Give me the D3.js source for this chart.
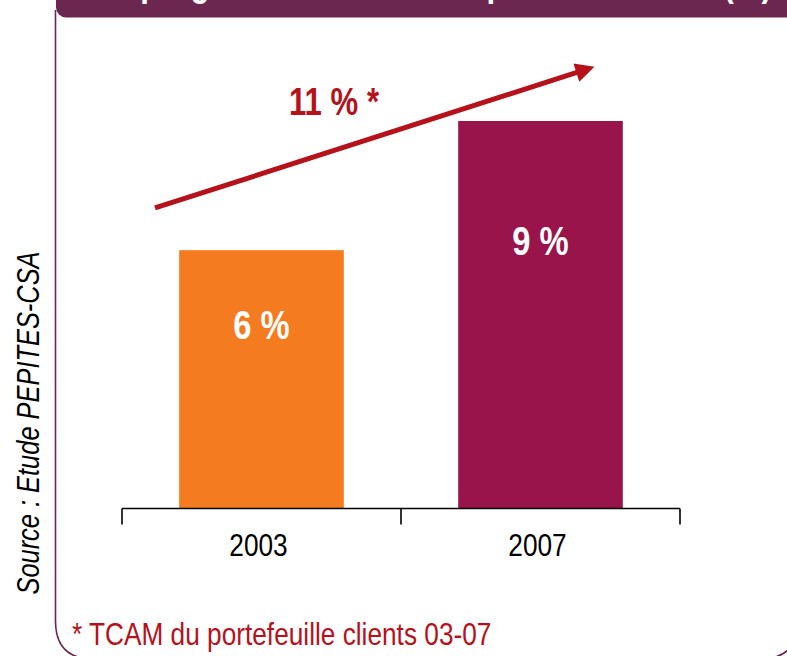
<!DOCTYPE html>
<html>
<head>
<meta charset="utf-8">
<script src="https://cdn.jsdelivr.net/npm/d3@7"></script>
<style>
  html, body { margin: 0; padding: 0; background: #fff; }
  svg { display: block; }
</style>
</head>
<body>
<script>
// data
const years = ["2003", "2007"];
const shares = [6, 9];
const barColors = ["#F47B20", "#98144A"];
const growthLabel = "11 % *";
const title = "Une progression forte de la part des clients (%)";
const source = "Source : Etude PEPITES-CSA";
const footnote = "* TCAM du portefeuille clients 03-07";

const width = 787, height = 656;
const font = "'Liberation Sans', Arial, sans-serif";
const purple = "#6B2750", red = "#B5121B";
const squeeze = 0.82; // no Arial Narrow installed, so squash horizontally

// place a text at (x, y) with the narrow look
const at = (x, y, rot = 0) =>
  `translate(${x},${y})` + (rot ? ` rotate(${rot})` : "") + ` scale(${squeeze},1)`;

const svg = d3.select("body").append("svg")
  .attr("width", width)
  .attr("height", height)
  .attr("font-family", font);

// frame with rounded bottom corners (right side runs off the page)
const fx0 = 55.5, fx1 = 798, fy0 = 10, fy1 = 659, r = 38;
svg.append("path")
  .attr("d", `M${fx0},${fy0} V${fy1 - r} Q${fx0},${fy1} ${fx0 + r},${fy1} H${fx1 - r} Q${fx1},${fy1} ${fx1},${fy1 - r} V${fy0}`)
  .attr("fill", "none")
  .attr("stroke", purple)
  .attr("stroke-width", 1.6);

// header band, mostly cropped at the top
svg.append("rect")
  .attr("x", 56).attr("y", -30)
  .attr("width", 740).attr("height", 47.5)
  .attr("rx", 10)
  .attr("fill", purple);

svg.append("text")
  .attr("transform", at(772, -4))
  .attr("text-anchor", "end")
  .attr("fill", "#fff")
  .attr("font-weight", "bold")
  .attr("font-size", 38)
  .text(title);

// scales
const x = d3.scaleBand().domain(years).range([122, 680]).padding(0);
const y = d3.scaleLinear().domain([0, 9]).range([508.5, 121]);
const barW = x.bandwidth() * 0.59;

// bars
svg.append("g")
  .selectAll("rect")
  .data(years)
  .join("rect")
  .attr("x", (d) => x(d) + (x.bandwidth() - barW) / 2)
  .attr("y", (d, i) => y(shares[i]))
  .attr("width", barW)
  .attr("height", (d, i) => y(0) - y(shares[i]))
  .attr("fill", (d, i) => barColors[i]);

// value labels inside the bars
svg.append("g")
  .selectAll("text")
  .data(years)
  .join("text")
  .attr("transform", (d, i) => at(x(d) + x.bandwidth() / 2, y(shares[i] * 0.655)))
  .attr("text-anchor", "middle")
  .attr("fill", "#fff")
  .attr("font-weight", "bold")
  .attr("font-size", 40)
  .text((d, i) => `${shares[i]} %`);

// x axis: baseline, boundary ticks, centred labels
const axis = svg.append("g");
const [ax0, ax1] = x.range();
axis.append("line")
  .attr("x1", ax0).attr("x2", ax1)
  .attr("y1", y(0)).attr("y2", y(0))
  .attr("stroke", "#000").attr("stroke-width", 1.6);
axis.selectAll("line.tick")
  .data(years.map((d) => x(d)).concat(ax1))
  .join("line")
  .attr("class", "tick")
  .attr("x1", (d) => d).attr("x2", (d) => d)
  .attr("y1", y(0)).attr("y2", y(0) + 16)
  .attr("stroke", "#000").attr("stroke-width", 1.6);
axis.selectAll("text")
  .data(years)
  .join("text")
  .attr("transform", (d) => at(x(d) + x.bandwidth() / 2 - 3, y(0) + 47))
  .attr("text-anchor", "middle")
  .attr("font-size", 32)
  .attr("fill", "#000")
  .text((d) => d);

// growth arrow
const defs = svg.append("defs");
defs.append("marker")
  .attr("id", "head")
  .attr("viewBox", "0 0 10 10")
  .attr("refX", 2).attr("refY", 5)
  .attr("markerWidth", 4.4).attr("markerHeight", 3.8)
  .attr("orient", "auto")
  .attr("markerUnits", "strokeWidth")
  .append("path")
  .attr("d", "M0,0 L10,5 L0,10 z")
  .attr("fill", red);

const ax = [ax0 + 33, ax1 - 100];
const ay = [y(6.98), y(10.15)];
svg.append("line")
  .attr("x1", ax[0]).attr("y1", ay[0])
  .attr("x2", ax[1]).attr("y2", ay[1])
  .attr("stroke", red)
  .attr("stroke-width", 5)
  .attr("marker-end", "url(#head)");

svg.append("text")
  .attr("transform", at(334, 115))
  .attr("text-anchor", "middle")
  .attr("fill", red)
  .attr("font-weight", "bold")
  .attr("font-size", 38)
  .text(growthLabel);

// source, rotated on the left
svg.append("text")
  .attr("transform", `translate(39,423) rotate(-90) scale(${squeeze},1)`)
  .attr("text-anchor", "middle")
  .attr("font-style", "italic")
  .attr("font-size", 31)
  .attr("fill", "#000")
  .text(source);

// footnote
svg.append("text")
  .attr("transform", at(72, 645))
  .attr("fill", red)
  .attr("font-size", 32)
  .text(footnote);
</script>
</body>
</html>
